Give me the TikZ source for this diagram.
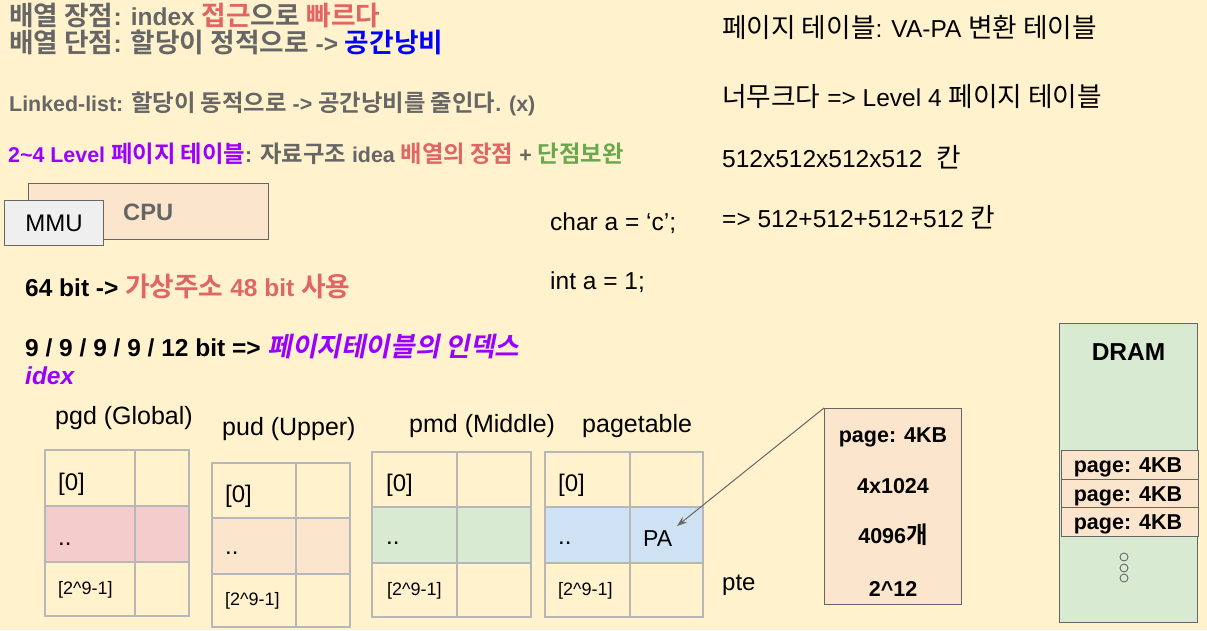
\documentclass[tikz,border=0pt]{standalone}
\usepackage{fontspec}
\setmainfont{Liberation Sans}
\newfontfamily\kr{Noto Sans CJK KR}[Scale=1.09,BoldFont={Noto Sans CJK KR Bold},ItalicFont={Noto Sans CJK KR},ItalicFeatures={FakeSlant=0.2},BoldItalicFont={Noto Sans CJK KR Bold},BoldItalicFeatures={FakeSlant=0.2}]
\usetikzlibrary{arrows.meta}
\definecolor{bg}{HTML}{FFF2CC}
\definecolor{tgray}{HTML}{666666}
\definecolor{tred}{HTML}{E06666}
\definecolor{tblue}{HTML}{0000FF}
\definecolor{tpurple}{HTML}{9900FF}
\definecolor{tgreen}{HTML}{6AA84F}
\definecolor{peach}{HTML}{FCE5CD}
\definecolor{pink}{HTML}{F4CCCC}
\definecolor{lgreen}{HTML}{D9EAD3}
\definecolor{lblue}{HTML}{CFE2F3}
\definecolor{lgray}{HTML}{EFEFEF}
\definecolor{cellline}{HTML}{B7B7B7}
\definecolor{boxline}{HTML}{666666}
\newcommand{\fs}[1]{\fontsize{#1}{#1}\selectfont}
\begin{document}
\begin{tikzpicture}[x=1pt,y=-1pt,
  txt/.style={anchor=base west,inner sep=0pt,text=black},
  big/.style={txt,font=\fs{24.5}\bfseries,text=tgray},
  mid/.style={txt,font=\fs{21.4}\bfseries,text=tgray},
  bold24/.style={txt,font=\fs{24.5}\bfseries},
  plain/.style={txt,font=\fs{24.5}},
  lab/.style={txt,font=\fs{25}},
  celltxt/.style={txt,font=\fs{24}},
  small/.style={txt,font=\fs{18}},
  cell/.style={draw=cellline,line width=1.2pt},
  pbox/.style={draw=boxline,line width=1pt,fill=peach,anchor=north west,inner sep=0pt},
  btxt/.style={anchor=base,inner sep=0pt,font=\fs{21.5}\bfseries,text=black}]
\useasboundingbox (0,0) rectangle (1207,630);
\fill[bg] (0,0) rectangle (1207,630);

% top left texts
\node[big] (l1) at (9,25.5) {{\kr 배열 장점}: index \textcolor{tred}{{\kr 접근}}{\kr 으로} \textcolor{tred}{{\kr 빠르다}}};
\node[big] (l2) at (9,52.5) {{\kr 배열 단점}: {\kr 할당이 정적으로} -> \textcolor{tblue}{{\kr 공간낭비}}};
\node[mid] (l3) at (9,111) {Linked-list: {\kr 할당이 동적으로} -> {\kr 공간낭비를 줄인다}. (x)};
\node[mid] (l4) at (8,162) {\textcolor{tpurple}{2\textasciitilde4 Level {\kr 페이지 테이블}}: {\kr 자료구조} idea \textcolor{tred}{{\kr 배열의 장점}} + \textcolor{tgreen}{{\kr 단점보완}}};

% CPU / MMU
\node[draw=boxline,line width=1pt,fill=peach,minimum width=240pt,minimum height=56pt,anchor=north west,inner sep=0pt] (cpu) at (28,183) {};
\node[anchor=base west,inner sep=0pt,font=\fs{23.7}\bfseries,text=tgray] (cpul) at (123,220.5) {CPU};
\node[draw=boxline,line width=1pt,fill=lgray,minimum width=99pt,minimum height=45pt,anchor=north west,inner sep=0pt,font=\fs{24},text=black] (mmu) at (4,200) {MMU};

\node[bold24] (b64) at (25,296) {64 bit -> \textcolor{tred}{{\kr 가상주소} 48 bit {\kr 사용}}};
\node[bold24] (b9) at (25,356) {9 / 9 / 9 / 9 / 12 bit => \textcolor{tpurple}{\itshape{\kr 페이지테이블의 인덱스}}};
\node[bold24,font=\fs{24.5}\bfseries\itshape,text=tpurple] (idex) at (25,384) {idex};

\node[plain] (ch) at (550,230) {char a = ‘c’;};
\node[plain] (in) at (550,289) {int a = 1;};

% right texts
\node[plain] (r1) at (722,37.3) {{\kr 페이지 테이블}: VA-PA {\kr 변환 테이블}};
\node[plain] (r2) at (722,106) {{\kr 너무크다} => Level 4 {\kr 페이지 테이블}};
\node[plain] (r3) at (722,167) {512x512x512x512\ \ {\kr 칸}};
\node[plain] (r4) at (722,227) {=> 512+512+512+512 {\kr 칸}};

% table labels
\node[lab] (pgdl) at (55,424) {pgd (Global)};
\node[lab] (pudl) at (222,435) {pud (Upper)};
\node[lab] (pmdl) at (409,432) {pmd (Middle)};
\node[lab] (ptl) at (582,432) {pagetable};

% pgd table
\fill[pink] (45,506) rectangle (189,562);
\draw[cell] (45,450) rectangle (189,616);
\draw[cell] (135,450) -- (135,616);
\draw[cell] (45,506) -- (189,506) (45,562) -- (189,562);
\node[celltxt] (g0) at (58,490) {[0]};
\node[celltxt] (gd) at (58,545) {..};
\node[small] (gl) at (58,594) {[2\textasciicircum 9-1]};

% pud table
\fill[peach] (212,518) rectangle (350,574);
\draw[cell] (212,463) rectangle (350,627);
\draw[cell] (296,463) -- (296,627);
\draw[cell] (212,518) -- (350,518) (212,574) -- (350,574);
\node[celltxt] (u0) at (225,502) {[0]};
\node[celltxt] (ud) at (225,554) {..};
\node[small] (ul) at (225,605) {[2\textasciicircum 9-1]};

% pmd table
\fill[lgreen] (372,507) rectangle (531,563);
\draw[cell] (372,452) rectangle (531,617);
\draw[cell] (457,452) -- (457,617);
\draw[cell] (372,507) -- (531,507) (372,563) -- (531,563);
\node[celltxt] (m0) at (386,491) {[0]};
\node[celltxt] (md) at (386,544) {..};
\node[small] (ml) at (387,595) {[2\textasciicircum 9-1]};

% pagetable
\fill[lblue] (545,507) rectangle (703,563);
\draw[cell] (545,452) rectangle (703,617);
\draw[cell] (630,452) -- (630,617);
\draw[cell] (545,507) -- (703,507) (545,563) -- (703,563);
\node[celltxt] (p0) at (558,491) {[0]};
\node[celltxt] (pd) at (558,544) {..};
\node[small] (pl) at (558,595) {[2\textasciicircum 9-1]};
\node[celltxt,font=\fs{23}] (pa) at (643,546) {PA};
\coordinate (patip) at (677,526);

\node[celltxt] (pte) at (722,590) {pte};

% page box
\node[pbox,minimum width=137pt,minimum height=196pt] (pg) at (824,408) {};
\node[btxt] (pg1) at (893,442) {page: 4KB};
\node[btxt] (pg2) at (893,493) {4x1024};
\node[btxt] (pg3) at (893,543) {4096{\kr 개}};
\node[btxt] (pg4) at (893,596) {2\textasciicircum 12};
\draw[draw=boxline,line width=1pt,-{Stealth[length=10pt,width=7pt]}] (pg.north west) -- (patip);

% DRAM
\node[draw=boxline,line width=1pt,fill=lgreen,anchor=north west,minimum width=138pt,minimum height=299pt,inner sep=0pt] (dram) at (1059,323) {};
\node[btxt,font=\fs{24.5}\bfseries] (draml) at (1128.5,360) {DRAM};
\node[pbox,minimum width=137pt,minimum height=29pt] (d1) at (1061,450) {};
\node[pbox,minimum width=137pt,minimum height=28pt] (d2) at (1061,479) {};
\node[pbox,minimum width=137pt,minimum height=29pt] (d3) at (1061,507) {};
\node[btxt] (d1t) at (1128,472) {page: 4KB};
\node[btxt] (d2t) at (1128,501) {page: 4KB};
\node[btxt] (d3t) at (1128,529) {page: 4KB};
\draw[draw=boxline,line width=0.9pt] (1124,557) circle (4) (1124,568) circle (4) (1124,578) circle (4);
\end{tikzpicture}
\end{document}
